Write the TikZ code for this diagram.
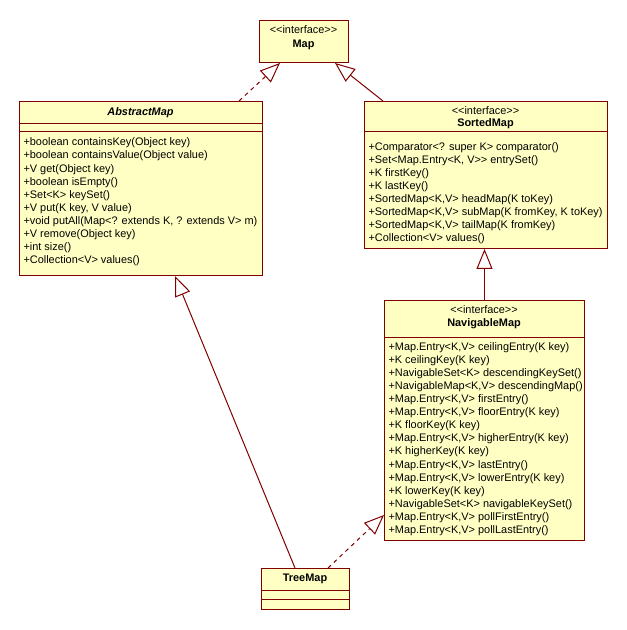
\documentclass[tikz,border=0pt]{standalone}
\usepackage{fontspec}
\setmainfont{Liberation Sans}[Ligatures=TeXOff]
\usetikzlibrary{arrows.meta,calc}
\definecolor{umlline}{RGB}{128,0,0}
\definecolor{umlfill}{RGB}{255,255,196}
\newlength{\upx}\setlength{\upx}{0.75pt}

\begin{document}
\begin{tikzpicture}[x=0.75pt,y=-0.75pt,line width=0.75pt,
 classbox/.style={draw=umlline,fill=umlfill,inner sep=0pt,anchor=north west},
 members/.style={anchor=north west,inner sep=0pt,align=left,font=\fontsize{8.2}{9.8}\selectfont},
 stereo/.style={inner sep=0pt,font=\fontsize{8.2}{9.8}\selectfont},
 classname/.style={inner sep=0pt,font=\fontsize{8.2}{9.8}\selectfont\bfseries},
 realizes/.style={draw=umlline,dash pattern=on 3pt off 3pt,-{Triangle[open,length=15pt,width=12pt]}},
 extends/.style={draw=umlline,-{Triangle[open,length=15pt,width=12pt]}}]
\useasboundingbox (0,0) rectangle (626,630);
% Map
\node[classbox,minimum width=89\upx,minimum height=42\upx] (map) at (259,20) {};
\node[stereo] (mapst) at (303.5,30) {<<interface>>};
\node[classname] (mapname) at (303.5,45) {Map};
% AbstractMap
\node[classbox,minimum width=243\upx,minimum height=174\upx] (abstractmap) at (19,101) {};
\node[classname,font=\fontsize{8.2}{9.8}\selectfont\bfseries\itshape] (abstractname) at (140.5,113) {AbstractMap};
\draw[umlline] ($(abstractmap.north west)+(0,23)$) -- ($(abstractmap.north east)+(0,23)$);
\draw[umlline] ($(abstractmap.north west)+(0,31)$) -- ($(abstractmap.north east)+(0,31)$);
\node[members] (abstractops) at (23,137.5) {+boolean containsKey(Object key)\\
+boolean containsValue(Object value)\\
+V get(Object key)\\
+boolean isEmpty()\\
+Set<K> keySet()\\
+V put(K key, V value)\\
+void putAll(Map<? extends K, ? extends V> m)\\
+V remove(Object key)\\
+int size()\\
+Collection<V> values()};
% SortedMap
\node[classbox,minimum width=243\upx,minimum height=147\upx] (sortedmap) at (364,101) {};
\node[stereo] (sortedst) at (485.5,111) {<<interface>>};
\node[classname] (sortedname) at (485.5,124) {SortedMap};
\draw[umlline] ($(sortedmap.north west)+(0,31)$) -- ($(sortedmap.north east)+(0,31)$);
\node[members] (sortedops) at (368,142) {+Comparator<? super K> comparator()\\
+Set<Map.Entry<K, V>> entrySet()\\
+K firstKey()\\
+K lastKey()\\
+SortedMap<K,V> headMap(K toKey)\\
+SortedMap<K,V> subMap(K fromKey, K toKey)\\
+SortedMap<K,V> tailMap(K fromKey)\\
+Collection<V> values()};
% NavigableMap
\node[classbox,minimum width=200\upx,minimum height=240\upx] (navmap) at (384,300) {};
\node[stereo] (navst) at (484,310) {<<interface>>};
\node[classname] (navname) at (484,324) {NavigableMap};
\draw[umlline] ($(navmap.north west)+(0,37)$) -- ($(navmap.north east)+(0,37)$);
\node[members] (navops) at (388,342) {+Map.Entry<K,V> ceilingEntry(K key)\\
+K ceilingKey(K key)\\
+NavigableSet<K> descendingKeySet()\\
+NavigableMap<K,V> descendingMap()\\
+Map.Entry<K,V> firstEntry()\\
+Map.Entry<K,V> floorEntry(K key)\\
+K floorKey(K key)\\
+Map.Entry<K,V> higherEntry(K key)\\
+K higherKey(K key)\\
+Map.Entry<K,V> lastEntry()\\
+Map.Entry<K,V> lowerEntry(K key)\\
+K lowerKey(K key)\\
+NavigableSet<K> navigableKeySet()\\
+Map.Entry<K,V> pollFirstEntry()\\
+Map.Entry<K,V> pollLastEntry()};
% TreeMap
\node[classbox,minimum width=88\upx,minimum height=41\upx] (treemap) at (261,568) {};
\node[classname] (treename) at (305,579) {TreeMap};
\draw[umlline] ($(treemap.north west)+(0,22)$) -- ($(treemap.north east)+(0,22)$);
\draw[umlline] ($(treemap.north west)+(0,31)$) -- ($(treemap.north east)+(0,31)$);
% generalisations
\draw[realizes] ($(abstractmap.north west)+(220,0)$) -- ($(map.south west)+(21,0)$);
\draw[extends] ($(sortedmap.north west)+(19,0)$) -- ($(map.south west)+(76,0)$);
\draw[extends] (navmap.north) -- (navmap.north |- sortedmap.south);
\draw[extends] ($(treemap.north west)+(34,0)$) -- ($(abstractmap.south west)+(156,0)$);
\draw[realizes] ($(treemap.north west)+(67,0)$) -- ($(navmap.south west)+(0,-26)$);
\end{tikzpicture}
\end{document}
